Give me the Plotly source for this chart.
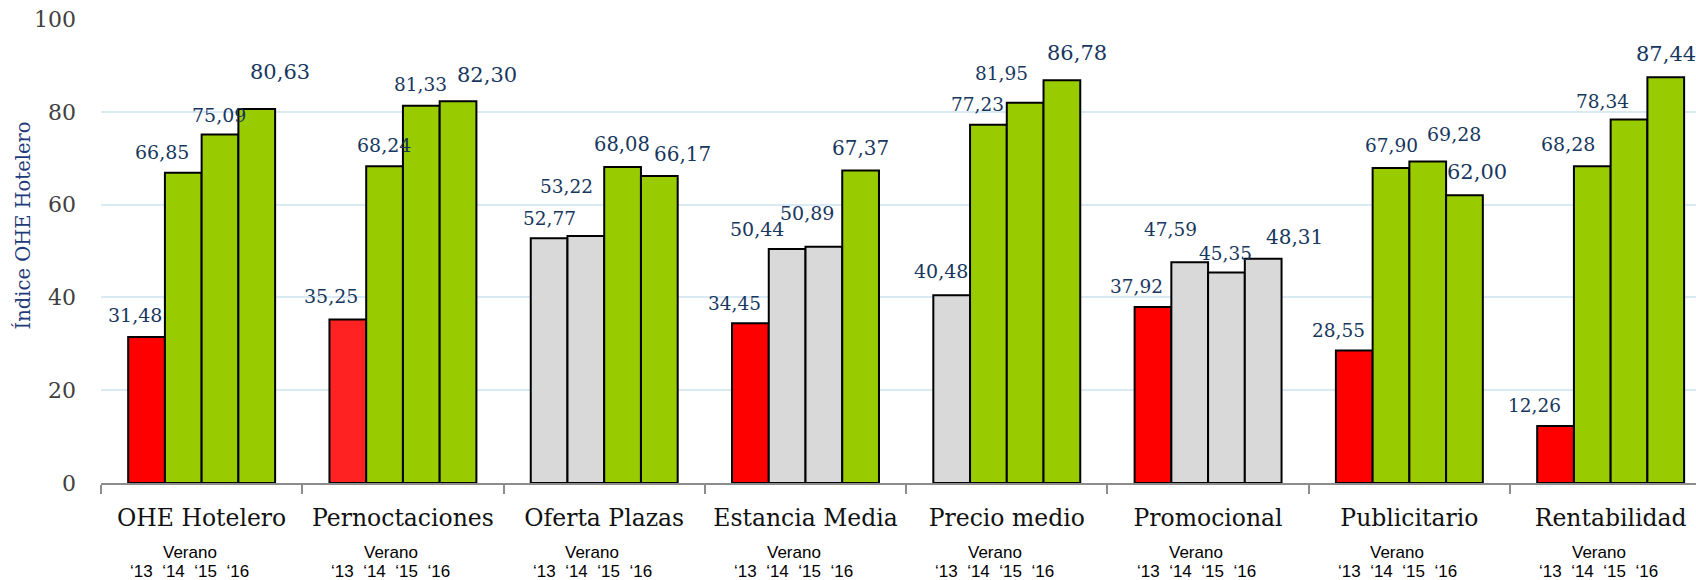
import plotly.graph_objects as go

# ---------------- data ----------------
categories = ["OHE Hotelero", "Pernoctaciones", "Oferta Plazas", "Estancia Media",
              "Precio medio", "Promocional", "Publicitario", "Rentabilidad"]
years = ["‘13", "‘14", "‘15", "‘16"]
v13 = [31.48, 35.25, 52.77, 34.45, 40.48, 37.92, 28.55, 12.26]
v14 = [66.85, 68.24, 53.22, 50.44, 77.23, 47.59, 67.90, 68.28]
v15 = [75.09, 81.33, 68.08, 50.89, 81.95, 45.35, 69.28, 78.34]
v16 = [80.63, 82.30, 66.17, 67.37, 86.78, 48.31, 62.00, 87.44]
y_ticks = [0, 20, 40, 60, 80, 100]

# ---------------- styles ----------------
RED, RED2, GRN, GRY = "#FF0000", "#FF2222", "#99CC00", "#D9D9D9"
c13 = [RED, RED2, GRY, RED, GRY, RED, RED, RED]
c14 = [GRN, GRN, GRY, GRY, GRN, GRY, GRN, GRN]
c15 = [GRN, GRN, GRN, GRY, GRN, GRY, GRN, GRN]
c16 = [GRN, GRN, GRN, GRN, GRN, GRY, GRN, GRN]

# label offsets (px) relative to bar top-centre: dx right, dy up
lab_dx = [[-11.5, -21.5, -0.7, 23.4], [-17, -0.8, -0.7, 28.8], [0, -19, -0.5, 23.3],
          [-16, -30, -16.8, 0], [-11, -11, -24, 15], [-16, -19, -0.6, 31.6],
          [-15.5, 0, 26, 12.6], [-21, -24, -27, 0]]
lab_dy = [[22, 21, 20, 37], [23, 21.5, 21, 26], [20, 50, 23, 22], [20, 20, 34, 22],
          [24, 20, 29.6, 27], [21, 33, 19.5, 22], [20, 22, 28, 23], [21, 22, 18, 23]]
lab_size = [[19, 19, 19, 21], [19, 19, 18.5, 21], [18.5, 18.5, 19.5, 20], [18.5, 19, 19, 20],
            [19, 18.5, 18.5, 21], [18.5, 18.5, 18.5, 20], [18.5, 18.5, 19, 21],
            [18.5, 19, 18.5, 21]]

SERIF = "DejaVu Serif"
NAVY = "#17375E"
BARGAP = 0.27

series = [v13, v14, v15, v16]
colors = [c13, c14, c15, c16]

fig = go.Figure()
for j, (vals, cols) in enumerate(zip(series, colors)):
    fig.add_trace(go.Bar(
        x=categories, y=vals, name=years[j],
        marker=dict(color=cols, line=dict(color="#000000", width=2)),
        hoverinfo="x+y",
    ))

# data labels
bar_w = (1 - BARGAP) / len(series)
annotations = []
for i in range(len(categories)):
    for j, vals in enumerate(series):
        v = vals[i]
        annotations.append(dict(
            x=i + (j - 1.5) * bar_w, y=v, xref="x", yref="y",
            text=f"{v:.2f}".replace(".", ","), showarrow=False,
            xanchor="center", yanchor="middle",
            xshift=lab_dx[i][j], yshift=lab_dy[i][j],
            font=dict(family=SERIF, size=lab_size[i][j], color=NAVY),
        ))

# "Verano" sub-labels under each category
for i in range(len(categories)):
    annotations.append(dict(
        x=i, y=0, xref="x", yref="paper", text="Verano", showarrow=False,
        xanchor="center", yanchor="middle", xshift=-12, yshift=-69,
        font=dict(family="Liberation Sans", size=17, color="#000000"),
    ))
    annotations.append(dict(
        x=i, y=0, xref="x", yref="paper",
        text="\u00a0\u00a0".join(years), showarrow=False,
        xanchor="center", yanchor="middle", xshift=-12, yshift=-88.5,
        font=dict(family="Liberation Sans", size=17, color="#000000"),
    ))

# y-axis title
annotations.append(dict(
    x=0, y=0.555, xref="paper", yref="paper", text="Índice OHE Hotelero",
    showarrow=False, textangle=-90, xanchor="center", yanchor="middle", xshift=-78,
    font=dict(family=SERIF, size=19.5, color="#1F3A7A"),
))

fig.update_layout(
    width=1696, height=580,
    margin=dict(l=101, r=0, t=19, b=97, pad=0),
    paper_bgcolor="white", plot_bgcolor="white",
    barmode="group", bargap=BARGAP, bargroupgap=0,
    showlegend=False,
    annotations=annotations,
    xaxis=dict(
        type="category", range=[-0.5, 7.424], automargin=False,
        tickson="boundaries", ticks="outside", ticklen=9, tickwidth=2, tickcolor="#8C8C8C",
        showline=True, linecolor="#8C8C8C", linewidth=2,
        showgrid=False, zeroline=False,
        tickfont=dict(family=SERIF, size=23.5, color="#111111"),
        ticklabelstandoff=13,
    ),
    yaxis=dict(
        range=[0, 100], tickvals=y_ticks, automargin=False,
        showgrid=True, gridcolor="#DAEAF5", gridwidth=2,
        zeroline=False, showline=False, ticks="",
        tickfont=dict(family=SERIF, size=22, color="#404040"),
        ticklabelstandoff=24,
    ),
)

fig.write_html(
    "out.html",
    config={"displayModeBar": False},
    post_script="document.body.style.margin='0';document.body.style.overflow='hidden';",
)
